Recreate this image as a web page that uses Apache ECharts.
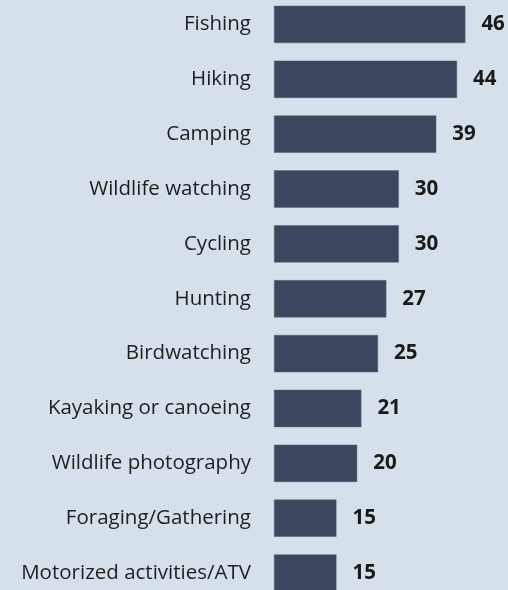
<!DOCTYPE html>
<html>
<head>
<meta charset="utf-8">
<style>
  html, body { margin: 0; padding: 0; background: #d6e0ea; }
  #chart { width: 508px; height: 590px; }
</style>
<script src="https://cdn.jsdelivr.net/npm/echarts@6/dist/echarts.min.js"></script>
</head>
<body>
<div id="chart"></div>
<script>
const activities = [
    'Fishing', 'Hiking', 'Camping', 'Wildlife watching', 'Cycling', 'Hunting',
    'Birdwatching', 'Kayaking or canoeing', 'Wildlife photography',
    'Foraging/Gathering', 'Motorized activities/ATV'
];
const shares = [46, 44, 39, 30, 30, 27, 25, 21, 20, 15, 15];

const chart = echarts.init(document.getElementById('chart'), null, { renderer: 'canvas' });

chart.setOption({
    backgroundColor: '#d6e0ea',
    animation: false,
    grid: {
        left: 274, width: 233, top: -3, height: 603.5,
        containLabel: false, outerBoundsMode: 'none'
    },
    xAxis: {
        type: 'value',
        min: 0,
        max: 56,
        show: false
    },
    yAxis: {
        type: 'category',
        data: activities,
        inverse: true,
        axisLine: { show: false },
        axisTick: { show: false },
        splitLine: { show: false },
        axisLabel: {
            margin: 23,
            fontFamily: 'Open Sans',
            fontSize: 20.5,
            color: '#1e1e1e'
        }
    },
    series: [
        {
            type: 'bar',
            data: shares,
            barWidth: '68%',
            itemStyle: { color: '#3c465e', borderColor: '#5a6478', borderWidth: 0.5 },
            label: {
                show: true,
                position: 'right',
                distance: 16,
                fontFamily: 'Open Sans',
                fontWeight: 'bold',
                fontSize: 20.5,
                color: '#1a1a1a'
            }
        }
    ]
});
</script>
</body>
</html>
